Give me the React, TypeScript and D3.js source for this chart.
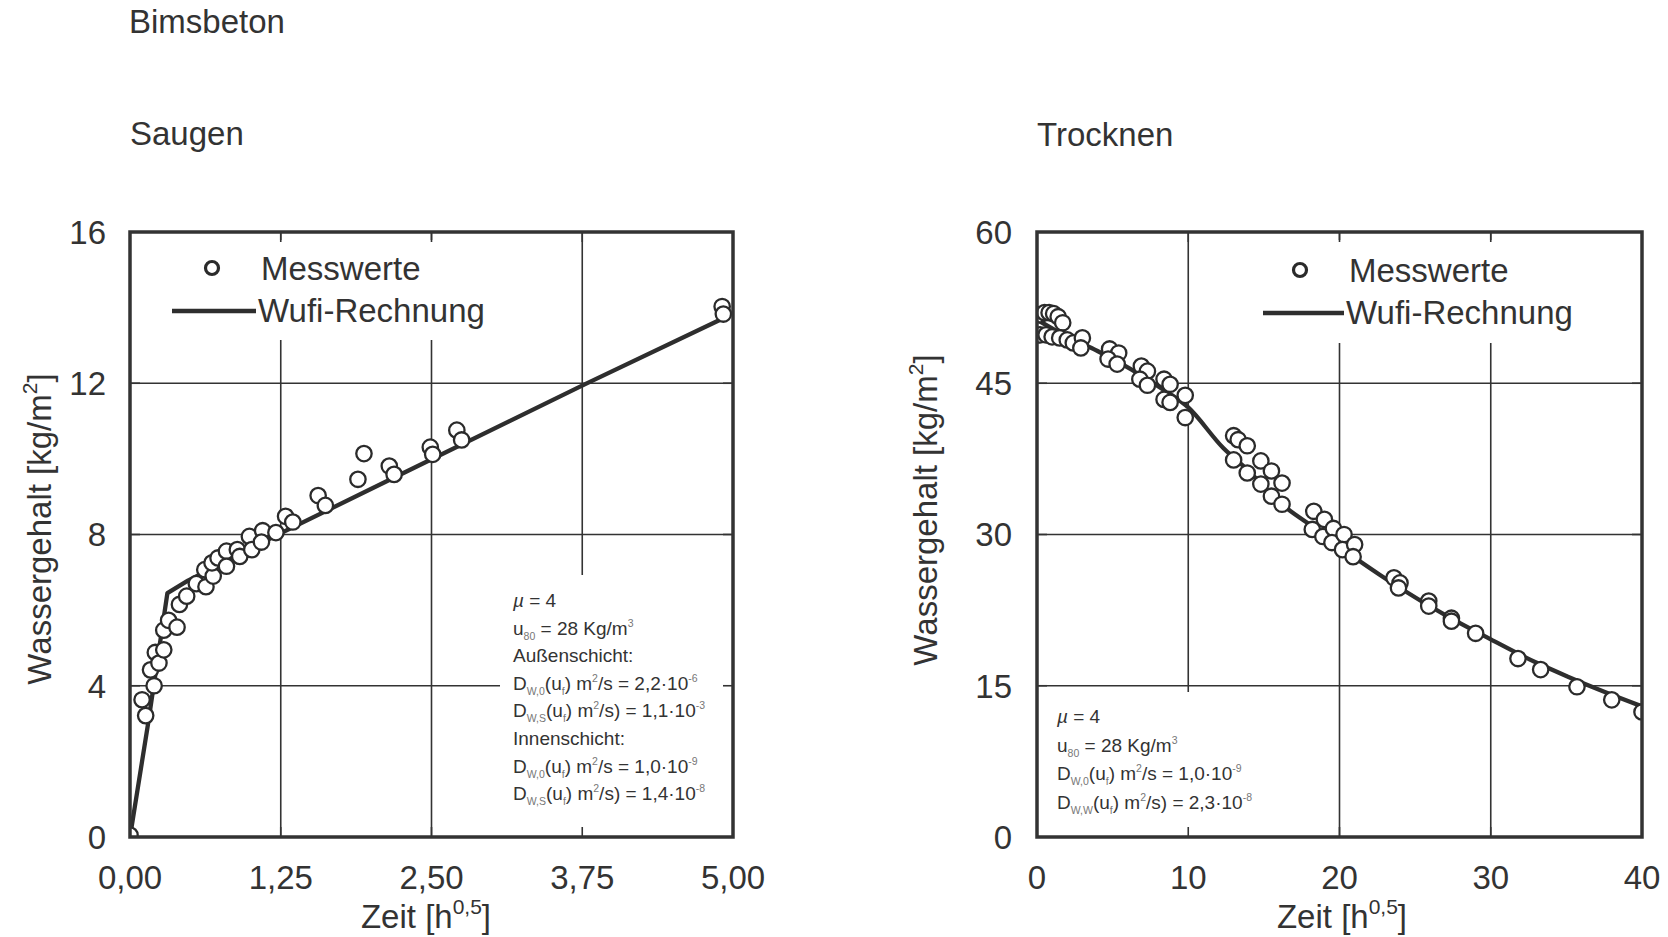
import React from "react";
import * as d3 from "d3";

// ---- Saugen (suction) ----
const saugenX = [0.0, 0.1, 0.13, 0.17, 0.2, 0.21, 0.24, 0.28, 0.28, 0.32, 0.39, 0.41, 0.47, 0.55, 0.63, 0.62, 0.69, 0.68, 0.73, 0.8, 0.8, 0.89, 0.91, 0.99, 1.01, 1.1, 1.09, 1.21, 1.29, 1.35, 1.56, 1.62, 1.89, 1.94, 2.15, 2.19, 2.49, 2.51, 2.71, 2.75, 4.91, 4.92];
const saugenY = [0.05, 3.63, 3.21, 4.42, 4.0, 4.88, 4.6, 4.95, 5.47, 5.73, 5.55, 6.15, 6.37, 6.7, 6.62, 7.07, 6.9, 7.25, 7.38, 7.56, 7.16, 7.6, 7.42, 7.95, 7.6, 8.1, 7.8, 8.05, 8.48, 8.33, 9.03, 8.77, 9.46, 10.14, 9.81, 9.59, 10.31, 10.12, 10.76, 10.5, 14.03, 13.83];
const saugenCalcX = [0, 0.15, 0.31, 0.48, 1.26, 2.2, 3.77, 4.92];
const saugenCalcY = [0, 3.0, 6.45, 6.78, 8.05, 9.52, 11.97, 13.72];
const saugenXTicks = [0, 1.25, 2.5, 3.75, 5];
const saugenYTicks = [0, 4, 8, 12, 16];

// ---- Trocknen (drying) ----
const trocknenX = [0.2, 0.5, 0.8, 1.1, 1.4, 1.7, 0.2, 0.6, 1.0, 1.5, 2.0, 2.4, 3.0, 2.9, 4.8, 5.4, 4.7, 5.3, 6.9, 7.3, 6.8, 7.3, 8.4, 8.8, 8.4, 8.8, 9.8, 9.8, 13.0, 13.3, 13.0, 13.9, 13.9, 14.8, 14.8, 15.5, 15.5, 16.2, 16.2, 18.3, 18.2, 19.0, 18.9, 19.6, 19.5, 20.3, 20.2, 21.0, 20.9, 23.6, 24.0, 23.9, 25.9, 25.9, 27.4, 27.4, 29.0, 31.8, 33.3, 35.7, 38.0, 40.0];
const trocknenY = [51.8, 52.0, 52.0, 51.9, 51.6, 51.0, 49.8, 49.8, 49.6, 49.5, 49.3, 49.0, 49.5, 48.5, 48.4, 48.0, 47.4, 46.9, 46.7, 46.2, 45.4, 44.8, 45.4, 44.9, 43.4, 43.1, 43.8, 41.6, 39.8, 39.4, 37.4, 38.8, 36.1, 37.3, 35.0, 36.3, 33.8, 35.1, 33.0, 32.3, 30.5, 31.5, 29.8, 30.6, 29.2, 30.0, 28.5, 29.0, 27.8, 25.7, 25.2, 24.7, 23.4, 22.9, 21.7, 21.4, 20.2, 17.7, 16.6, 14.9, 13.6, 12.4];
const trocknenCalcX = [0, 2, 4, 6.2, 8, 10, 12.3, 14, 16.1, 18, 21.2, 24, 27, 30, 33, 35.1, 37.5, 40];
const trocknenCalcY = [51.3, 49.6, 48.2, 46.4, 44.7, 42.6, 38.6, 36.3, 33.1, 31.0, 27.5, 24.7, 22.0, 19.6, 17.3, 15.9, 14.4, 12.95];
const trocknenXTicks = [0, 10, 20, 30, 40];
const trocknenYTicks = [0, 15, 30, 45, 60];

// ---- text ----
const legendLabels = ["Messwerte", "Wufi-Rechnung"];
type Seg = { t: string; k?: "sub" | "sup" | "it" };
const saugenNotes: Seg[][] = [
  [{ t: "\u00b5", k: "it" }, { t: " = 4" }],
  [{ t: "u" }, { t: "80", k: "sub" }, { t: " = 28 Kg/m" }, { t: "3", k: "sup" }],
  [{ t: "Au\u00dfenschicht:" }],
  [{ t: "D" }, { t: "W,0", k: "sub" }, { t: "(u" }, { t: "f", k: "sub" }, { t: ") m" }, { t: "2", k: "sup" }, { t: "/s = 2,2\u00b710" }, { t: "-6", k: "sup" }],
  [{ t: "D" }, { t: "W,S", k: "sub" }, { t: "(u" }, { t: "f", k: "sub" }, { t: ") m" }, { t: "2", k: "sup" }, { t: "/s) = 1,1\u00b710" }, { t: "-3", k: "sup" }],
  [{ t: "Innenschicht:" }],
  [{ t: "D" }, { t: "W,0", k: "sub" }, { t: "(u" }, { t: "f", k: "sub" }, { t: ") m" }, { t: "2", k: "sup" }, { t: "/s = 1,0\u00b710" }, { t: "-9", k: "sup" }],
  [{ t: "D" }, { t: "W,S", k: "sub" }, { t: "(u" }, { t: "f", k: "sub" }, { t: ") m" }, { t: "2", k: "sup" }, { t: "/s) = 1,4\u00b710" }, { t: "-8", k: "sup" }],
];
const trocknenNotes: Seg[][] = [
  [{ t: "\u00b5", k: "it" }, { t: " = 4" }],
  [{ t: "u" }, { t: "80", k: "sub" }, { t: " = 28 Kg/m" }, { t: "3", k: "sup" }],
  [{ t: "D" }, { t: "W,0", k: "sub" }, { t: "(u" }, { t: "f", k: "sub" }, { t: ") m" }, { t: "2", k: "sup" }, { t: "/s = 1,0\u00b710" }, { t: "-9", k: "sup" }],
  [{ t: "D" }, { t: "W,W", k: "sub" }, { t: "(u" }, { t: "f", k: "sub" }, { t: ") m" }, { t: "2", k: "sup" }, { t: "/s) = 2,3\u00b710" }, { t: "-8", k: "sup" }],
];

const FONT = "'Liberation Sans', Arial, Helvetica, sans-serif";
const INK = "#333333";
const SMALL = "#777777";
const BIG = 33;
const NOTE = 19;

function NoteLine({ x, y, segs }: { x: number; y: number; segs: Seg[] }) {
  let off = 0;
  const parts = segs.map((s, i) => {
    let target = 0;
    if (s.k === "sub") target = 5;
    if (s.k === "sup") target = -8;
    const dy = target - off;
    off = target;
    const small = s.k === "sub" || s.k === "sup";
    return (
      <tspan
        key={i}
        dy={dy}
        fontSize={small ? 10.5 : NOTE}
        fill={small ? SMALL : INK}
        fontStyle={s.k === "it" ? "italic" : "normal"}
      >
        {s.t}
      </tspan>
    );
  });
  return (
    <text x={x} y={y} fontFamily={FONT} fontSize={NOTE} fill={INK}>
      {parts}
    </text>
  );
}

type PanelProps = {
  id: string;
  left: number;
  right: number;
  top: number;
  bottom: number;
  xDomain: [number, number];
  yDomain: [number, number];
  xTicks: number[];
  yTicks: number[];
  xFmt: (v: number) => string;
  px: number[];
  py: number[];
  cx: number[];
  cy: number[];
  curve: d3.CurveFactory;
  legendBox: [number, number, number, number];
  legendCircle: [number, number];
  legendLine: [number, number, number];
  legendTextX: number;
  legendY: [number, number];
  noteBox: [number, number, number, number];
  notes: Seg[][];
  noteX: number;
  noteY0: number;
  noteStep: number;
  yTitle: [number, number];
  xTitle: [number, number];
  tickLabelRight: number;
};

function Panel(p: PanelProps) {
  const x = d3.scaleLinear().domain(p.xDomain).range([p.left, p.right]);
  const y = d3.scaleLinear().domain(p.yDomain).range([p.bottom, p.top]);
  const calc = p.cx.map((v, i) => [v, p.cy[i]] as [number, number]);
  const path = d3
    .line<[number, number]>()
    .x((d) => x(d[0]))
    .y((d) => y(d[1]))
    .curve(p.curve)(calc) as string;
  const tickLen = 10;
  return (
    <g>
      <defs>
        <clipPath id={p.id}>
          <rect x={p.left} y={p.top} width={p.right - p.left} height={p.bottom - p.top} />
        </clipPath>
      </defs>
      {/* grid */}
      {p.xTicks.slice(1, -1).map((t) => (
        <line key={"gx" + t} x1={x(t)} x2={x(t)} y1={p.top} y2={p.bottom} stroke={INK} strokeWidth={1.6} />
      ))}
      {p.yTicks.slice(1, -1).map((t) => (
        <line key={"gy" + t} x1={p.left} x2={p.right} y1={y(t)} y2={y(t)} stroke={INK} strokeWidth={1.6} />
      ))}
      {/* legend and note backgrounds hide the grid */}
      <rect x={p.legendBox[0]} y={p.legendBox[1]} width={p.legendBox[2]} height={p.legendBox[3]} fill="#fff" />
      <rect x={p.noteBox[0]} y={p.noteBox[1]} width={p.noteBox[2]} height={p.noteBox[3]} fill="#fff" />
      {/* inward ticks */}
      {p.xTicks.slice(1, -1).map((t) => (
        <g key={"tx" + t}>
          <line x1={x(t)} x2={x(t)} y1={p.bottom} y2={p.bottom - tickLen} stroke={INK} strokeWidth={1.6} />
          <line x1={x(t)} x2={x(t)} y1={p.top} y2={p.top + tickLen} stroke={INK} strokeWidth={1.6} />
        </g>
      ))}
      {p.yTicks.slice(1, -1).map((t) => (
        <g key={"ty" + t}>
          <line x1={p.left} x2={p.left + tickLen} y1={y(t)} y2={y(t)} stroke={INK} strokeWidth={1.6} />
          <line x1={p.right} x2={p.right - tickLen} y1={y(t)} y2={y(t)} stroke={INK} strokeWidth={1.6} />
        </g>
      ))}
      {/* data */}
      <g clipPath={`url(#${p.id})`}>
        <path d={path} fill="none" stroke="#2e2e2e" strokeWidth={4.3} strokeLinejoin="round" />
        {p.px.map((v, i) => (
          <circle key={i} cx={x(v)} cy={y(p.py[i])} r={7.7} fill="#fff" stroke="#2b2b2b" strokeWidth={2.3} />
        ))}
      </g>
      {/* frame */}
      <rect x={p.left} y={p.top} width={p.right - p.left} height={p.bottom - p.top} fill="none" stroke={INK} strokeWidth={3.5} />
      {/* tick labels */}
      {p.xTicks.map((t) => (
        <text key={"lx" + t} x={x(t)} y={p.bottom + 52} textAnchor="middle" fontFamily={FONT} fontSize={BIG} fill={INK}>
          {p.xFmt(t)}
        </text>
      ))}
      {p.yTicks.map((t) => (
        <text key={"ly" + t} x={p.tickLabelRight} y={y(t)} dy="0.36em" textAnchor="end" fontFamily={FONT} fontSize={BIG} fill={INK}>
          {t}
        </text>
      ))}
      {/* axis titles */}
      <text x={p.xTitle[0]} y={p.xTitle[1]} textAnchor="middle" fontFamily={FONT} fontSize={BIG} fill={INK}>
        Zeit [h
        <tspan dy={-14} fontSize={21}>0,5</tspan>
        <tspan dy={14}>]</tspan>
      </text>
      <text
        transform={`translate(${p.yTitle[0]},${p.yTitle[1]}) rotate(-90)`}
        textAnchor="middle"
        dy="0.36em"
        fontFamily={FONT}
        fontSize={BIG}
        fill={INK}
      >
        Wassergehalt [kg/m
        <tspan dy={-14} fontSize={21}>2</tspan>
        <tspan dy={14}>]</tspan>
      </text>
      {/* legend */}
      <circle cx={p.legendCircle[0]} cy={p.legendCircle[1]} r={6.5} fill="#fff" stroke="#2b2b2b" strokeWidth={3.2} />
      <line x1={p.legendLine[0]} x2={p.legendLine[1]} y1={p.legendLine[2]} y2={p.legendLine[2]} stroke="#2e2e2e" strokeWidth={4.5} />
      <text x={p.legendTextX} y={p.legendY[0]} fontFamily={FONT} fontSize={BIG} fill={INK}>
        {legendLabels[0]}
      </text>
      <text x={p.legendTextX - 3} y={p.legendY[1]} fontFamily={FONT} fontSize={BIG} fill={INK}>
        {legendLabels[1]}
      </text>
      {/* parameters */}
      {p.notes.map((segs, i) => (
        <NoteLine key={i} x={p.noteX} y={p.noteY0 + i * p.noteStep} segs={segs} />
      ))}
    </g>
  );
}

const fmtComma = (v: number) => d3.format(".2f")(v).replace(".", ",");
const fmtInt = (v: number) => String(v);

export default function App() {
  return (
    <svg
      width={1668}
      height={937}
      viewBox="0 0 1668 937"
      style={{ position: "absolute", left: 0, top: 0, background: "#fff" }}
    >
      <rect width={1668} height={937} fill="#fff" />
      <text x={129} y={33} fontFamily={FONT} fontSize={BIG} fill={INK}>Bimsbeton</text>
      <text x={130} y={145} fontFamily={FONT} fontSize={BIG} fill={INK}>Saugen</text>
      <text x={1037} y={146} fontFamily={FONT} fontSize={BIG} fill={INK}>Trocknen</text>

      <Panel
        id="clip-saugen"
        left={130}
        right={733}
        top={232}
        bottom={837}
        xDomain={[0, 5]}
        yDomain={[0, 16]}
        xTicks={saugenXTicks}
        yTicks={saugenYTicks}
        xFmt={fmtComma}
        px={saugenX}
        py={saugenY}
        cx={saugenCalcX}
        cy={saugenCalcY}
        curve={d3.curveLinear}
        legendBox={[150, 240, 340, 100]}
        legendCircle={[212, 268]}
        legendLine={[172, 256, 311]}
        legendTextX={261}
        legendY={[280, 322]}
        noteBox={[500, 575, 233, 262]}
        notes={saugenNotes}
        noteX={513}
        noteY0={607}
        noteStep={27.6}
        yTitle={[39, 529]}
        xTitle={[426, 928]}
        tickLabelRight={106}
      />
      <Panel
        id="clip-trocknen"
        left={1037}
        right={1642}
        top={232}
        bottom={837}
        xDomain={[0, 40]}
        yDomain={[0, 60]}
        xTicks={trocknenXTicks}
        yTicks={trocknenYTicks}
        xFmt={fmtInt}
        px={trocknenX}
        py={trocknenY}
        cx={trocknenCalcX}
        cy={trocknenCalcY}
        curve={d3.curveMonotoneX}
        legendBox={[1255, 240, 345, 103]}
        legendCircle={[1300, 270]}
        legendLine={[1263, 1344, 313]}
        legendTextX={1349}
        legendY={[282, 324]}
        noteBox={[1045, 692, 225, 145]}
        notes={trocknenNotes}
        noteX={1057}
        noteY0={723}
        noteStep={28.7}
        yTitle={[925, 510]}
        xTitle={[1342, 928]}
        tickLabelRight={1012}
      />
    </svg>
  );
}
